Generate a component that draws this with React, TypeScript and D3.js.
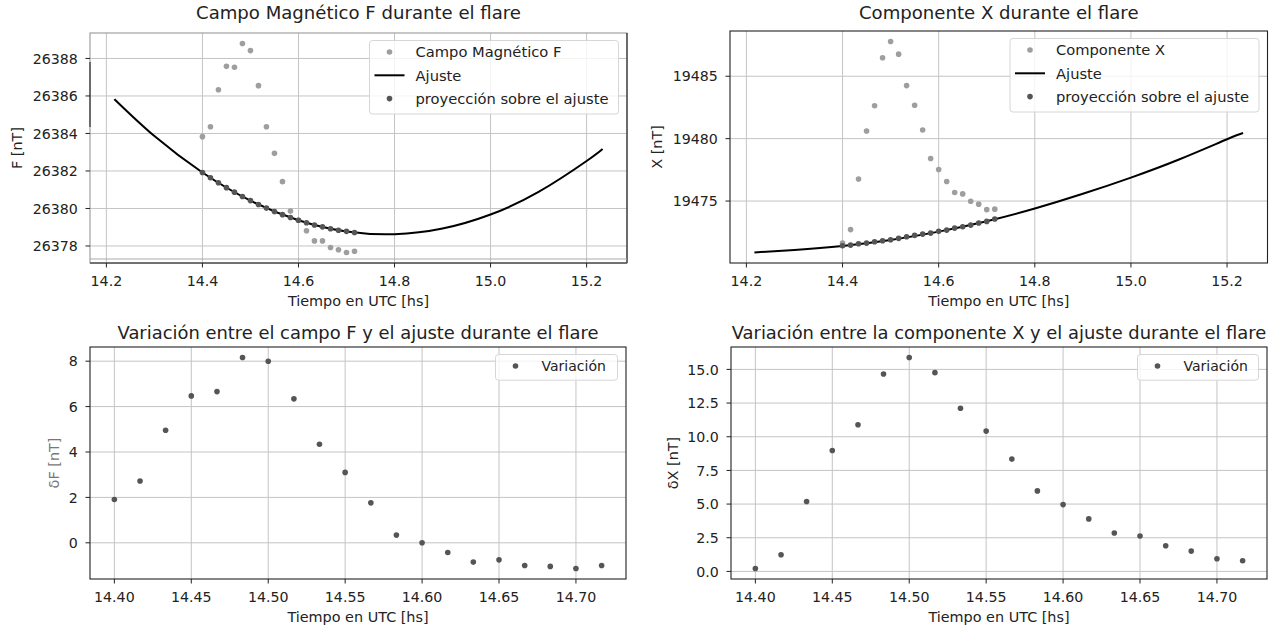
import React from "react";
import * as d3 from "d3";

// ---- data ----
const times = [
  14.4, 14.4167, 14.4333, 14.45, 14.4667, 14.4833, 14.5, 14.5167, 14.5333, 14.55,
  14.5667, 14.5833, 14.6, 14.6167, 14.6333, 14.65, 14.6667, 14.6833, 14.7, 14.7167,
];
const fitTimes = [14.2167, 14.3, 14.4, 14.5, 14.6, 14.7, 14.8, 14.9, 15.0, 15.1, 15.2, 15.2333];

const fieldF = [
  26383.83, 26384.36, 26386.33, 26387.58, 26387.53, 26388.8, 26388.42, 26386.55, 26384.36, 26382.94,
  26381.43, 26379.86, 26379.37, 26378.81, 26378.27, 26378.27, 26377.92, 26377.8, 26377.65, 26377.72,
];
const projF = [
  26381.92, 26381.64, 26381.37, 26381.11, 26380.87, 26380.64, 26380.42, 26380.21, 26380.02, 26379.84,
  26379.67, 26379.52, 26379.37, 26379.24, 26379.12, 26379.02, 26378.92, 26378.84, 26378.78, 26378.72,
];
const fitF = [
  26385.83, 26383.86, 26381.92, 26380.42, 26379.37, 26378.77, 26378.63, 26378.93, 26379.68, 26380.88,
  26382.53, 26383.17,
];

const compX = [
  19471.64, 19472.71, 19476.77, 19480.61, 19482.63, 19486.48, 19487.78, 19486.77, 19484.25, 19482.67,
  19480.69, 19478.41, 19477.53, 19476.57, 19475.68, 19475.57, 19474.98, 19474.75, 19474.31, 19474.35,
];
const projX = [
  19471.42, 19471.47, 19471.58, 19471.63, 19471.74, 19471.82, 19471.9, 19472.01, 19472.14, 19472.25,
  19472.35, 19472.43, 19472.57, 19472.67, 19472.83, 19472.94, 19473.07, 19473.24, 19473.37, 19473.56,
];
const fitX = [
  19470.88, 19471.08, 19471.4, 19471.88, 19472.55, 19473.38, 19474.4, 19475.58, 19476.88, 19478.33,
  19479.95, 19480.45,
];

const deltaF = [
  1.91, 2.72, 4.96, 6.47, 6.66, 8.16, 8.0, 6.34, 4.34, 3.1,
  1.76, 0.34, 0.0, -0.43, -0.85, -0.75, -1.0, -1.04, -1.13, -1.0,
];
const deltaX = [
  0.22, 1.24, 5.19, 8.98, 10.89, 14.66, 15.88, 14.76, 12.11, 10.42,
  8.34, 5.98, 4.96, 3.9, 2.85, 2.63, 1.91, 1.51, 0.94, 0.79,
];

const xTicksTop = [14.2, 14.4, 14.6, 14.8, 15.0, 15.2];
const xTicksBottom = [14.4, 14.45, 14.5, 14.55, 14.6, 14.65, 14.7];
const yTicksF = [26378, 26380, 26382, 26384, 26386, 26388];
const yTicksX = [19475, 19480, 19485];
const yTicksDF = [0, 2, 4, 6, 8];
const yTicksDX = [0, 2.5, 5, 7.5, 10, 12.5, 15];

// ---- style ----
const FONT = "'DejaVu Sans', 'Liberation Sans', sans-serif";
const LIGHT = "#9e9e9e";
const DARK = "#555555";
const GRID = "#c4c4c4";
const INK = "#222";

function padExtent(vals: number[]): [number, number] {
  const [a, b] = d3.extent(vals) as [number, number];
  const m = (b - a) * 0.05;
  return [a - m, b + m];
}

type Box = { x0: number; x1: number; y0: number; y1: number };
type LegendItem = { kind: "dot" | "line"; color: string; label: string };
type Series =
  | { kind: "dots"; xs: number[]; ys: number[]; color: string }
  | { kind: "line"; xs: number[]; ys: number[]; color: string };

type PanelProps = {
  box: Box;
  xVals: number[];
  yVals: number[];
  xTicks: number[];
  xFmt: (v: number) => string;
  yTicks: number[];
  yFmt: (v: number) => string;
  title: string;
  titleY: number;
  titleSize: number;
  legendSize: number;
  xlabel: string;
  ylabel: string;
  ylabelOffset: number;
  ylabelColor?: string;
  legend: LegendItem[];
  legendW: number;
  series: Series[];
  artifact?: boolean;
};

function Panel(p: PanelProps) {
  const { box } = p;
  const x = d3.scaleLinear().domain(padExtent(p.xVals)).range([box.x0, box.x1]);
  const y = d3.scaleLinear().domain(padExtent(p.yVals)).range([box.y1, box.y0]);
  const line = d3
    .line<[number, number]>()
    .x((d) => x(d[0]))
    .y((d) => y(d[1]))
    .curve(d3.curveNatural);

  const lh = p.legend.length === 1 ? 25.7 : 73.5;
  const lx = box.x1 - 8.5 - p.legendW;
  const ly = box.y0 + 7.5;
  const cx = (box.x0 + box.x1) / 2;
  const cy = (box.y0 + box.y1) / 2;

  return (
    <g fontFamily={FONT}>
      {/* grid */}
      {p.xTicks.map((t) => (
        <line key={"gx" + t} x1={x(t)} x2={x(t)} y1={box.y0} y2={box.y1} stroke={GRID} strokeWidth={1} />
      ))}
      {p.yTicks.map((t) => (
        <line key={"gy" + t} x1={box.x0} x2={box.x1} y1={y(t)} y2={y(t)} stroke={GRID} strokeWidth={1} />
      ))}
      {/* series */}
      {p.series.map((s, i) =>
        s.kind === "line" ? (
          <path
            key={i}
            d={line(s.xs.map((v, j) => [v, s.ys[j]] as [number, number])) || ""}
            fill="none"
            stroke={s.color}
            strokeWidth={2}
          />
        ) : (
          <g key={i}>
            {s.xs.map((v, j) => (
              <circle key={j} cx={x(v)} cy={y(s.ys[j])} r={2.8} fill={s.color} />
            ))}
          </g>
        )
      )}
      {/* spines */}
      {p.artifact ? (
        <g>
          <rect x={box.x0} y={box.y0} width={box.x1 - box.x0} height={box.y1 - box.y0} fill="none" stroke="#999" strokeWidth={1.1} />
          <line x1={box.x1} x2={box.x1} y1={box.y0} y2={box.y1} stroke={INK} strokeWidth={1.1} />
          <line x1={box.x0} x2={box.x0} y1={box.y0 + 29} y2={box.y0 + 94} stroke={INK} strokeWidth={1.1} />
          <line x1={box.x0} x2={box.x1} y1={box.y1} y2={box.y1} stroke="#555" strokeWidth={1.6} />
          <line x1={box.x0} x2={box.x1} y1={box.y1 - 4} y2={box.y1 - 4} stroke="#aaa" strokeWidth={1.1} />
        </g>
      ) : (
        <rect x={box.x0} y={box.y0} width={box.x1 - box.x0} height={box.y1 - box.y0} fill="none" stroke={INK} strokeWidth={1.1} />
      )}
      {/* x ticks */}
      {p.xTicks.map((t) => (
        <g key={"xt" + t}>
          <line x1={x(t)} x2={x(t)} y1={box.y1} y2={box.y1 + 4.5} stroke={INK} strokeWidth={1} />
          <text x={x(t)} y={box.y1 + 22.5} textAnchor="middle" fontSize={14.2} fill={INK}>
            {p.xFmt(t)}
          </text>
        </g>
      ))}
      {/* y ticks */}
      {p.yTicks.map((t) => (
        <g key={"yt" + t}>
          <line x1={box.x0 - 4.5} x2={box.x0} y1={y(t)} y2={y(t)} stroke={INK} strokeWidth={1} />
          <text x={box.x0 - 12.2} y={y(t)} dy="0.36em" textAnchor="end" fontSize={14.2} fill={INK}>
            {p.yFmt(t)}
          </text>
        </g>
      ))}
      {/* labels */}
      <text x={cx} y={p.titleY} textAnchor="middle" fontSize={p.titleSize} fill={INK}>
        {p.title}
      </text>
      <text x={cx} y={box.y1 + 43} textAnchor="middle" fontSize={14.4} fill={INK}>
        {p.xlabel}
      </text>
      <text
        transform={`translate(${box.x0 + p.ylabelOffset + 5.2},${cy}) rotate(-90)`}
        textAnchor="middle"
        fontSize={14.4}
        fill={p.ylabelColor || INK}
      >
        {p.ylabel}
      </text>
      {/* legend */}
      <rect x={lx} y={ly} width={p.legendW} height={lh} rx={3} fill="#fff" fillOpacity={0.8} stroke="#d6d6d6" strokeWidth={1} />
      {p.legend.map((it, i) => {
        const ry = ly + 11.5 + i * 23.3;
        return (
          <g key={"lg" + i}>
            {it.kind === "dot" ? (
              <circle cx={lx + 20} cy={ry} r={2.8} fill={it.color} />
            ) : (
              <line x1={lx + 5} x2={lx + 35} y1={ry} y2={ry} stroke={it.color} strokeWidth={2} />
            )}
            <text x={lx + 46} y={ry + 5.3} fontSize={p.legendSize} fill={INK}>
              {it.label}
            </text>
          </g>
        );
      })}
    </g>
  );
}

const f1 = (v: number) => v.toFixed(1);
const f2 = (v: number) => v.toFixed(2);
const f0 = (v: number) => v.toFixed(0);

export default function App() {
  return (
    <svg
      width={1279}
      height={630}
      viewBox="0 0 1279 630"
      style={{ position: "absolute", left: 0, top: 0, display: "block", background: "#fff" }}
    >
      <rect x={0} y={0} width={1279} height={630} fill="#fff" />
      <Panel
        box={{ x0: 90, x1: 627, y0: 33, y1: 263 }}
        xVals={fitTimes.concat(times)}
        yVals={fieldF.concat(projF, fitF)}
        xTicks={xTicksTop}
        xFmt={f1}
        yTicks={yTicksF}
        yFmt={f0}
        title="Campo Magnético F durante el flare"
        titleY={19}
        titleSize={18.1}
        legendSize={14.7}
        xlabel="Tiempo en UTC [hs]"
        ylabel="F [nT]"
        ylabelOffset={-73.7}
        legendW={249}
        legend={[
          { kind: "dot", color: LIGHT, label: "Campo Magnético F" },
          { kind: "line", color: "#000", label: "Ajuste" },
          { kind: "dot", color: DARK, label: "proyección sobre el ajuste" },
        ]}
        series={[
          { kind: "dots", xs: times, ys: fieldF, color: LIGHT },
          { kind: "line", xs: fitTimes, ys: fitF, color: "#000" },
          { kind: "dots", xs: times, ys: projF, color: DARK },
        ]}
        artifact
      />
      <Panel
        box={{ x0: 730, x1: 1267.5, y0: 31, y1: 263 }}
        xVals={fitTimes.concat(times)}
        yVals={compX.concat(projX, fitX)}
        xTicks={xTicksTop}
        xFmt={f1}
        yTicks={yTicksX}
        yFmt={f0}
        title="Componente X durante el flare"
        titleY={19}
        titleSize={18.1}
        legendSize={14.7}
        xlabel="Tiempo en UTC [hs]"
        ylabel="X [nT]"
        ylabelOffset={-73.5}
        legendW={249}
        legend={[
          { kind: "dot", color: LIGHT, label: "Componente X" },
          { kind: "line", color: "#000", label: "Ajuste" },
          { kind: "dot", color: DARK, label: "proyección sobre el ajuste" },
        ]}
        series={[
          { kind: "dots", xs: times, ys: compX, color: LIGHT },
          { kind: "line", xs: fitTimes, ys: fitX, color: "#000" },
          { kind: "dots", xs: times, ys: projX, color: DARK },
        ]}
      />
      <Panel
        box={{ x0: 90, x1: 626, y0: 347, y1: 579 }}
        xVals={times}
        yVals={deltaF}
        xTicks={xTicksBottom}
        xFmt={f2}
        yTicks={yTicksDF}
        yFmt={f0}
        title="Variación entre el campo F y el ajuste durante el flare"
        titleY={339}
        titleSize={17.9}
        legendSize={14}
        xlabel="Tiempo en UTC [hs]"
        ylabel="δF [nT]"
        ylabelOffset={-36}
        ylabelColor="#777"
        legendW={122}
        legend={[{ kind: "dot", color: DARK, label: "Variación" }]}
        series={[{ kind: "dots", xs: times, ys: deltaF, color: DARK }]}
      />
      <Panel
        box={{ x0: 731, x1: 1267, y0: 347, y1: 579 }}
        xVals={times}
        yVals={deltaX}
        xTicks={xTicksBottom}
        xFmt={f2}
        yTicks={yTicksDX}
        yFmt={f1}
        title="Variación entre la componente X y el ajuste durante el flare"
        titleY={339}
        titleSize={17.9}
        legendSize={14}
        xlabel="Tiempo en UTC [hs]"
        ylabel="δX [nT]"
        ylabelOffset={-58}
        legendW={121}
        legend={[{ kind: "dot", color: DARK, label: "Variación" }]}
        series={[{ kind: "dots", xs: times, ys: deltaX, color: DARK }]}
      />
    </svg>
  );
}
